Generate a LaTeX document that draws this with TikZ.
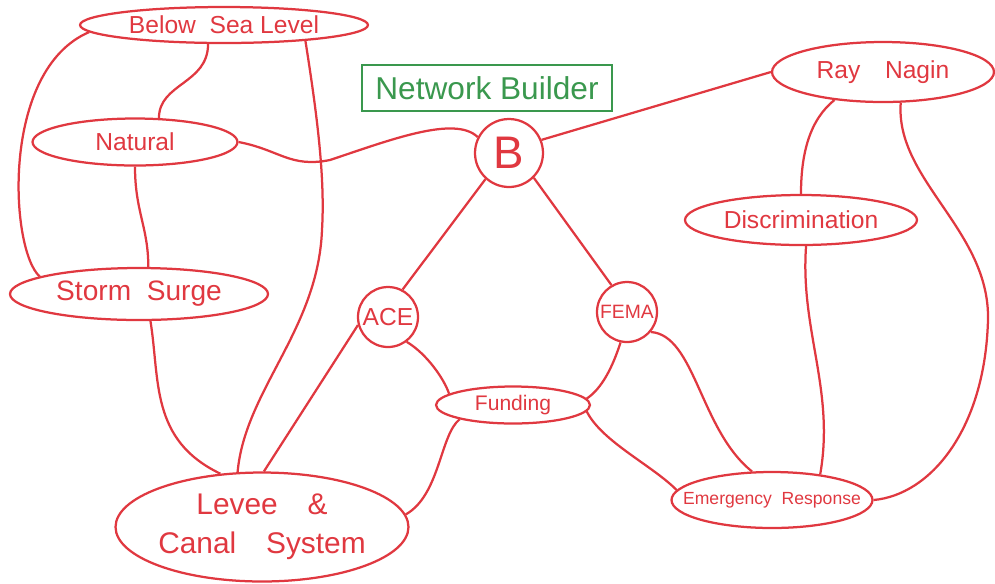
\documentclass[tikz,border=0pt]{standalone}
\usepackage{fontspec}
\setmainfont{Liberation Sans}
\usetikzlibrary{shapes.geometric}
\definecolor{pen}{RGB}{224,56,64}
\definecolor{marker}{RGB}{58,152,78}

\begin{document}
\begin{tikzpicture}[x=0.02cm, y=-0.02cm, line width=0.45mm, pen,
    blob/.style={ellipse, draw, inner sep=-1cm},
    hub/.style={circle, draw, inner sep=0pt}]
    \useasboundingbox (0,0) rectangle (995,583);

    \node[blob, minimum width=5.76cm, minimum height=0.72cm, font=\fontsize{14}{14}\selectfont] (bsl) at (224,25) {Below\ \ Sea Level};
    \node[blob, minimum width=4.1cm, minimum height=0.94cm, font=\fontsize{14}{14}\selectfont] (nat) at (135,142) {Natural};
    \node[blob, minimum width=5.16cm, minimum height=1.04cm, font=\fontsize{16}{16}\selectfont] (surge) at (139,294) {Storm\ \ Surge};
    \node[draw=marker, text=marker, line width=0.3mm, minimum width=5cm, minimum height=0.92cm, font=\fontsize{18}{18}\selectfont] (nb) at (487,88) {Network Builder};
    \node[hub, minimum size=1.36cm, font=\fontsize{26}{26}\selectfont] (b) at (509,153) {B};
    \node[blob, minimum width=4.44cm, minimum height=1.2cm, font=\fontsize{14}{14}\selectfont] (ray) at (883,72) {Ray\quad Nagin};
    \node[blob, minimum width=4.64cm, minimum height=1cm, font=\fontsize{14}{14}\selectfont] (disc) at (801,220) {Discrimination};
    \node[hub, minimum size=1.2cm, font=\fontsize{14}{14}\selectfont] (ace) at (388,317) {ACE};
    \node[hub, minimum size=1.2cm, font=\fontsize{11}{11}\selectfont] (fema) at (627,312) {FEMA};
    \node[blob, minimum width=3.08cm, minimum height=0.74cm, font=\fontsize{12}{12}\selectfont] (fund) at (513,405) {Funding};
    \node[blob, minimum width=5.86cm, minimum height=2.18cm, align=center, font=\fontsize{17}{22}\selectfont] (levee) at (262,527) {Levee\quad\&\\Canal\quad System};
    \node[blob, minimum width=4.02cm, minimum height=1.12cm, font=\fontsize{10}{10}\selectfont] (er) at (772,500) {Emergency\ \ Response};

    \draw (bsl.183) .. controls (0,70) and (10,250) .. (surge.170)
          (bsl.230) .. controls +(0,40) and +(0,-35) .. (nat.45)
          (bsl.349) .. controls (318,120) and (325,180) .. (322,230)
                    .. controls (318,330) and (245,390) .. (levee.114)
          (nat.east) .. controls (280,150) and (290,168) .. (330,160)
                     .. controls (390,140) and (455,115) .. (b.153)
          (nat.south) .. controls +(0,45) and +(0,-40) .. (surge.71)
          (surge.293) .. controls (160,380) and (150,440) .. (levee.128)
          (ace.195) -- (levee.88)
          (b.228) -- (ace.62)
          (b.315) -- (fema.120)
          (b.22) -- (ray.180)
          (ray.210) .. controls +(-25,20) and +(0,-40) .. (disc.north)
          (ray.300) .. controls (895,180) and (990,230) .. (988,320)
                    .. controls (985,430) and (930,495) .. (er.east)
          (disc.281) .. controls (800,330) and (835,390) .. (er.28)
          (fema.320) .. controls (695,335) and (700,430) .. (er.125)
          (fema.258) .. controls +(-8,25) and +(15,-10) .. (fund.5)
          (ace.307) .. controls +(20,12) and +(-5,-15) .. (fund.170)
          (fund.195) .. controls (440,435) and (440,495) .. (levee.5)
          (fund.355) .. controls +(15,30) and +(-25,-25) .. (er.174);
\end{tikzpicture}
\end{document}
